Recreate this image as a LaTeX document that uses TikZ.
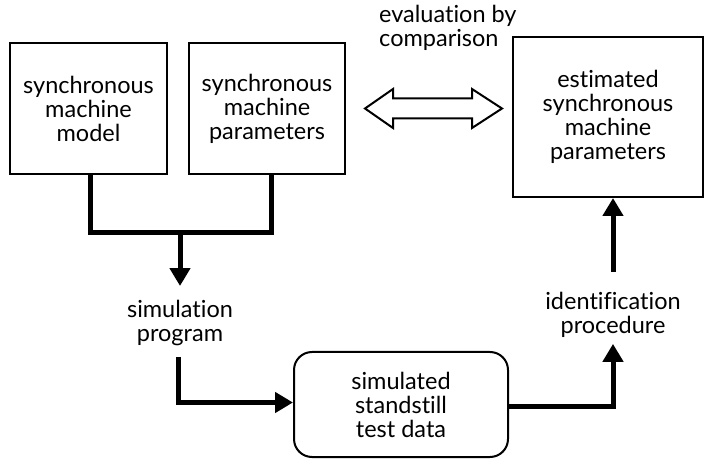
\documentclass[tikz,border=0pt]{standalone}
\usepackage{fontspec}
\setmainfont{Lato}[Ligatures={NoCommon}]
\usetikzlibrary{arrows.meta}
\begin{document}
\begin{tikzpicture}[x=1bp,y=-1bp,
  every node/.style={font=\fontsize{23.5bp}{24bp}\selectfont, align=center},
  block/.style={draw, line width=2bp, inner sep=0pt},
  label/.style={inner sep=0pt},
  conn/.style={line width=5bp},
  flow/.style={conn, -{Triangle[length=18bp,width=20bp]}},
]
\useasboundingbox (0,0) rectangle (705,460);

% boxes
\node[block, minimum width=157bp, minimum height=131bp] (model) at (88.5,108.5)
  {synchronous\\machine\\model};
\node[block, minimum width=156bp, minimum height=131bp] (param) at (267,108.5)
  {synchronous\\machine\\parameters};
\node[block, minimum width=190bp, minimum height=160bp] (est) at (608,117)
  {estimated\\synchronous\\machine\\parameters};
\node[block, rounded corners=18bp, minimum width=214bp, minimum height=105bp] (data) at (401,404.5)
  {simulated\\standstill\\test data};

% free-standing labels
\node[label] (sim) at (180,323) {simulation\\program};
\node[label] (ident) at (613,315) {identification\\procedure};
\node[label, align=left, anchor=west] (eval) at (379,28) {evaluation by\\comparison};

% joining the two inputs
\coordinate (join) at (180,233);
\draw[conn] ([xshift=1.5bp]model.south) |- (join) -| ([xshift=4bp]param.south);
\draw[flow, shorten >=14bp] (join) -- (sim.north);

% simulation program -> test data
\draw[flow, shorten <=11bp] ([xshift=-2bp]sim.south) |- ([yshift=2bp]data.west);

% test data -> identification
\draw[flow, shorten >=6bp] ([yshift=-2bp]data.east) -| (ident.south);

% identification -> estimated parameters
\draw[flow, shorten <=20bp] (ident.north) -- (ident.north |- est.south);

% comparison double arrow
\draw[line width=2bp, line join=miter]
  (365,108.5) -- (393,89) -- (393,98.5) -- (472,98.5) -- (472,89) -- (502,108.5)
  -- (472,128) -- (472,118.5) -- (393,118.5) -- (393,128) -- cycle;
\end{tikzpicture}
\end{document}
